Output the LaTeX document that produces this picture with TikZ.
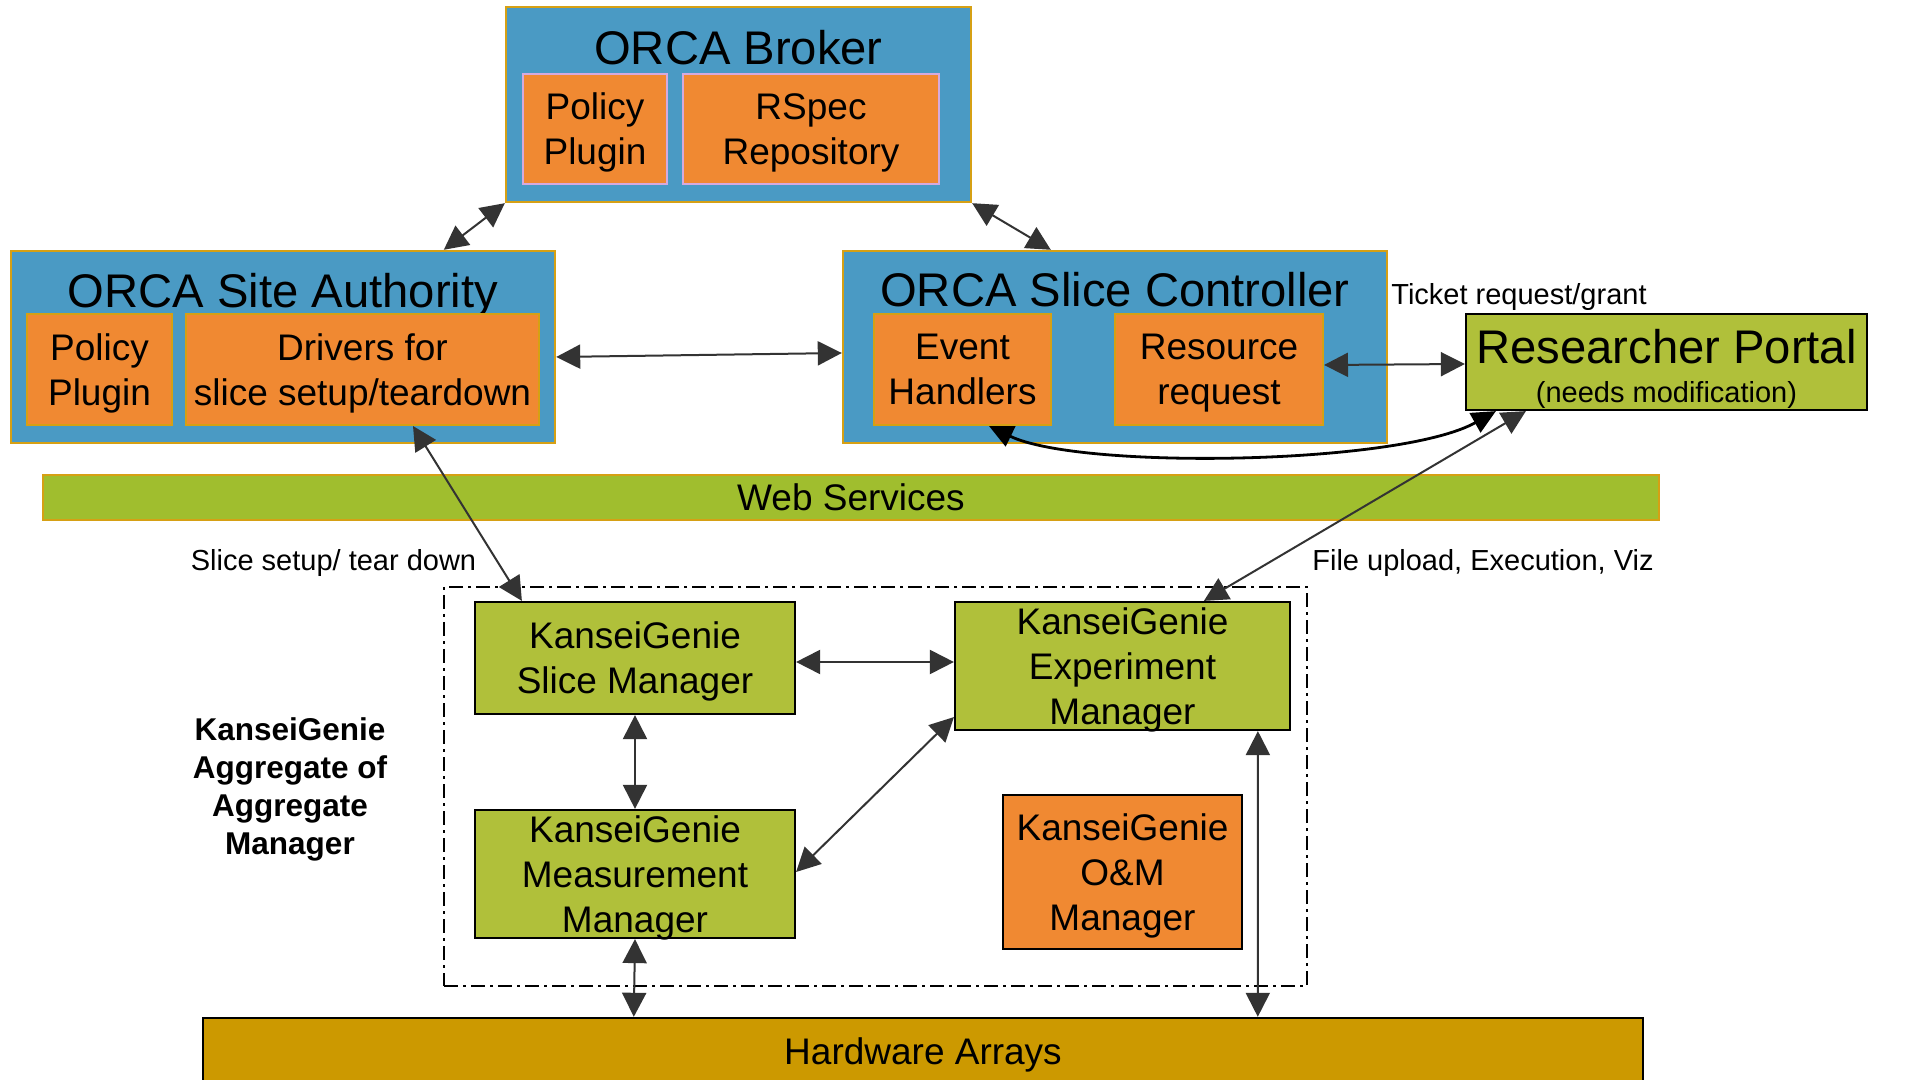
\documentclass[tikz,border=0pt]{standalone}
\usepackage{fontspec}
\setmainfont{Liberation Sans}
\usetikzlibrary{arrows.meta}
\definecolor{cblue}{RGB}{74,154,196}
\definecolor{corange}{RGB}{240,137,50}
\definecolor{cgold}{RGB}{214,160,20}
\definecolor{cgreen}{RGB}{176,192,58}
\definecolor{cweb}{RGB}{160,190,46}
\definecolor{chw}{RGB}{204,153,0}
\definecolor{clav}{RGB}{214,170,222}
\definecolor{cdark}{RGB}{51,51,51}
\tikzset{
  outerbox/.style={draw=cgold, line width=1.2pt, fill=cblue, inner sep=0pt},
  innerbox/.style={draw=cgold, line width=1pt, fill=corange, inner sep=0pt, align=center, text depth=0pt, font=\fontsize{18.5}{22.5}\selectfont},
  lavbox/.style={innerbox, draw=clav},
  greenbox/.style={draw=black, line width=1.1pt, fill=cgreen, inner sep=0pt, align=center, text depth=0pt, font=\fontsize{18.5}{22.5}\selectfont},
  orbox/.style={draw=black, line width=1pt, fill=corange, inner sep=0pt, align=center, text depth=0pt, font=\fontsize{18.5}{22.5}\selectfont},
  titletext/.style={inner sep=0pt, text depth=0pt, font=\fontsize{23.6}{28}\selectfont},
  smalltext/.style={inner sep=0pt, text depth=0pt, font=\fontsize{14.5}{17}\selectfont},
  biarrow/.style={{Triangle[length=12pt,width=12pt]}-{Triangle[length=12pt,width=12pt]}, draw=cdark, line width=1pt},
  blackarrow/.style={{Triangle[length=12pt,width=11pt]}-{Triangle[length=12pt,width=11pt]}, draw=black, line width=1.4pt}
}
\begin{document}
\begin{tikzpicture}[x=0.5pt,y=-0.5pt]
\clip (0,0) rectangle (1908,1080);
\fill[white] (0,0) rectangle (1908,1080);

% ORCA Broker
\node[outerbox, minimum width=232.5pt, minimum height=97.5pt] (broker) at (738.5,104.5) {};
\node[titletext] (brokerT) at (738.5,47) {ORCA Broker};
\node[lavbox, minimum width=72pt, minimum height=55pt] (bpol) at (595,129) {Policy\\Plugin};
\node[lavbox, minimum width=128pt, minimum height=55pt] (bspec) at (811,129) {RSpec\\Repository};

% ORCA Site Authority
\node[outerbox, minimum width=272pt, minimum height=96pt] (sa) at (283,347) {};
\node[titletext] (saT) at (283,290) {ORCA Site Authority};
\node[innerbox, minimum width=72.5pt, minimum height=55.5pt] (sapol) at (99.5,369.5) {Policy\\Plugin};
\node[innerbox, minimum width=176.5pt, minimum height=55.5pt] (drv) at (362.5,369.5) {Drivers for\\slice setup/teardown};

% ORCA Slice Controller
\node[outerbox, minimum width=272pt, minimum height=96pt] (sc) at (1115,347) {};
\node[titletext] (scT) at (1115,289) {ORCA Slice Controller};
\node[innerbox, minimum width=88.5pt, minimum height=55.5pt] (evh) at (962.5,369.5) {Event\\Handlers};
\node[innerbox, minimum width=104pt, minimum height=55.5pt] (rreq) at (1219,369.5) {Resource\\request};

% Researcher Portal
\node[draw=black, line width=1.1pt, fill=cgreen, inner sep=0pt, minimum width=200.5pt, minimum height=48pt] (portal) at (1666.5,362) {};
\node[titletext] (portalT) at (1666.5,346) {Researcher Portal};
\node[smalltext] (portalS) at (1666.5,392) {(needs modification)};
\node[smalltext, anchor=west] (ticket) at (1391,294) {Ticket request/grant};

% Web services
\node[draw=cgold, line width=1.2pt, fill=cweb, inner sep=0pt, text depth=0pt, minimum width=808pt, minimum height=22.5pt, font=\fontsize{18.5}{22.5}\selectfont] (web) at (851,497.5) {Web Services};

\node[smalltext] (slicelab) at (333.5,560) {Slice setup/ tear down};
\node[smalltext] (filelab) at (1483,560) {File upload, Execution, Viz};

% Aggregate box
\node[draw=black, line width=1pt, dash pattern=on 7pt off 2.5pt on 1.5pt off 2.5pt, minimum width=431.5pt, minimum height=199.5pt, inner sep=0pt] (agg) at (875.5,786.5) {};
\node[inner sep=0pt, align=center, text depth=0pt, font=\fontsize{15.75}{19}\selectfont\bfseries] (aggT) at (290,786) {KanseiGenie\\Aggregate of\\Aggregate\\Manager};

\node[greenbox, minimum width=160pt, minimum height=56pt] (sm) at (635,658) {KanseiGenie\\Slice Manager};
\node[greenbox, minimum width=167.5pt, minimum height=64pt] (em) at (1122.5,666) {KanseiGenie\\Experiment\\Manager};
\node[greenbox, minimum width=160pt, minimum height=64pt] (mm) at (635,874) {KanseiGenie\\Measurement\\Manager};
\node[orbox, minimum width=119.5pt, minimum height=77pt] (om) at (1122.5,872) {KanseiGenie\\O\&M\\Manager};

% Hardware
\node[draw=black, line width=1.2pt, fill=chw, inner sep=0pt, text depth=0pt, minimum width=720pt, minimum height=33pt, font=\fontsize{18.5}{22.5}\selectfont] (hw) at (923,1051) {Hardware Arrays};

% Connectors
\draw[biarrow] (broker.south west) -- ([xshift=217pt]sa.north west);
\draw[biarrow] (broker.south east) -- ([xshift=104.5pt]sc.north west);
\draw[biarrow] ([yshift=-5pt]sa.east) -- ([yshift=-3pt]sc.west);
\draw[biarrow] ([yshift=2.25pt]rreq.east) -- ([yshift=-1pt]portal.west);
\draw[blackarrow] ([xshift=58pt]evh.south west) .. controls (1080,470) and (1400,465) .. ([xshift=15.5pt]portal.south west);
\draw[biarrow] ([xshift=114pt]drv.south west) -- ([xshift=24pt]sm.north west);
\draw[biarrow] ([xshift=30.5pt]portal.south west) -- ([xshift=125pt]em.north west);
\draw[biarrow] ([yshift=-2pt]sm.east) -- ([yshift=2pt]em.west);
\draw[biarrow] (sm.south) -- (mm.north);
\draw[biarrow] ([yshift=1pt]mm.east) -- ([yshift=7pt]em.south west);
\draw[biarrow] (mm.south) -- ([xshift=216pt]hw.north west);
\draw[biarrow] ([xshift=152pt]em.south west) -- ([xshift=528pt]hw.north west);
\end{tikzpicture}
\end{document}
